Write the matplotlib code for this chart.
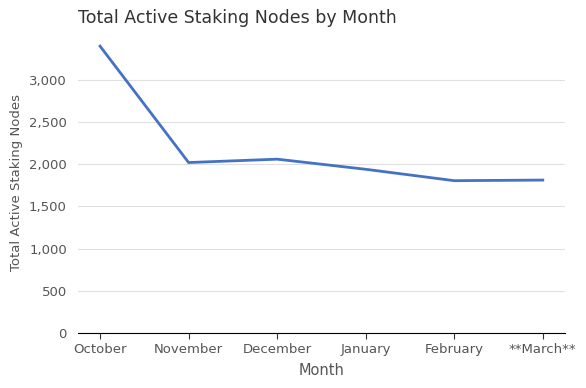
import matplotlib
matplotlib.use("Agg")
import matplotlib.pyplot as plt
from matplotlib.ticker import FuncFormatter

months = ["October", "November", "December", "January", "February", "**March**"]
nodes = [3400, 2020, 2060, 1940, 1805, 1812]

fig = plt.figure(figsize=(5.86, 3.88), dpi=100)
ax = fig.add_axes([0.133, 0.142, 0.831, 0.776])

x = list(range(len(months)))
ax.plot(x, nodes, color="#4472C4", linewidth=2)

ax.set_xlim(-0.25, len(months) - 0.75)
ax.set_ylim(0, max(nodes) * 1.05)
ax.set_yticks([0, 500, 1000, 1500, 2000, 2500, 3000])
ax.yaxis.set_major_formatter(FuncFormatter(lambda v, p: f"{int(v):,}"))
ax.set_xticks(x)
ax.set_xticklabels(months)

ax.grid(axis="y", color="#e0e0e0", linewidth=0.8)
ax.set_axisbelow(True)
for s in ["top", "right", "left"]:
    ax.spines[s].set_visible(False)
ax.spines["bottom"].set_color("black")

ax.tick_params(axis="y", length=0, labelsize=9.5, colors="#555555", pad=8)
ax.tick_params(axis="x", length=4, labelsize=9.5, labelcolor="#555555", color="#333333")

ax.set_xlabel("Month", fontsize=10.5, color="#555555", labelpad=5)
ax.set_ylabel("Total Active Staking Nodes", fontsize=9.5, color="#555555", labelpad=4)
ax.set_title("Total Active Staking Nodes by Month", loc="left", fontsize=12.5, color="#333333", pad=6)

fig.savefig("out.png", dpi=100)
